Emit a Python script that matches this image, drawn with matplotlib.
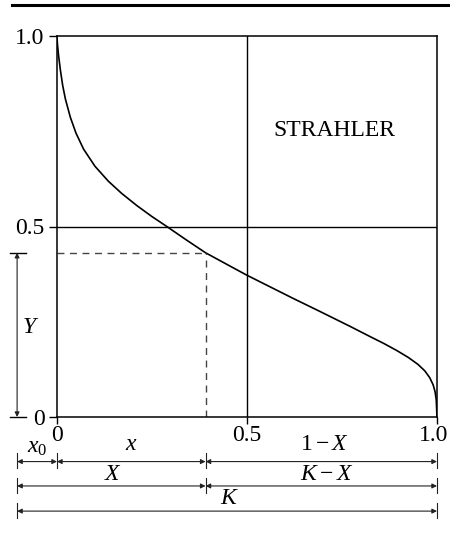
import matplotlib
matplotlib.use('Agg')
import matplotlib.pyplot as plt
import matplotlib.transforms as mtransforms
from matplotlib.lines import Line2D

plt.rcParams['font.family'] = 'Liberation Serif'
plt.rcParams['mathtext.fontset'] = 'custom'
plt.rcParams['mathtext.rm'] = 'Liberation Serif'
plt.rcParams['mathtext.it'] = 'Liberation Serif:italic'

# hypsometric curve: relative area (x) vs relative height (y)
rel_area = [0, 0.001, 0.004, 0.009, 0.015, 0.022, 0.035, 0.05, 0.07, 0.1,
            0.135, 0.17, 0.21, 0.25, 0.289, 0.34, 0.391, 0.45, 0.5, 0.56,
            0.62, 0.692, 0.771, 0.824, 0.86, 0.895, 0.925, 0.95, 0.968, 0.981,
            0.99, 0.995, 0.998, 1.0]
rel_height = [1.0, 0.98, 0.95, 0.91, 0.87, 0.835, 0.787, 0.745, 0.703, 0.658,
              0.619, 0.587, 0.555, 0.526, 0.5, 0.465, 0.431, 0.399, 0.372, 0.342,
              0.312, 0.277, 0.238, 0.211, 0.193, 0.174, 0.156, 0.138, 0.121, 0.103,
              0.084, 0.066, 0.045, 0.0]

X_pt = 0.391   # chosen point on the curve
Y_pt = 0.431
x_left = -0.105  # start of the x0 offset
tick_vals = [0, 0.5, 1.0]
tick_text = ['0', '0.5', '1.0']

fig = plt.figure(figsize=(4.5, 5.33), dpi=100)
ax = fig.add_axes([57/450, 116/533, 380/450, 381/533])
ax.set_xlim(0, 1)
ax.set_ylim(0, 1)

ax.plot(rel_area, rel_height, color='k', lw=1.2, solid_joinstyle='round')
ax.axvline(0.5, color='k', lw=1.0)
ax.axhline(0.5, color='k', lw=1.0)

# dashed guides to the chosen point
ax.plot([0, X_pt], [Y_pt, Y_pt], color='#444444', lw=1.0, ls=(0, (5, 4)))
ax.plot([X_pt, X_pt], [0, Y_pt], color='#444444', lw=1.0, ls=(0, (5, 4)))

ax.text(0.729, 0.753, 'STRAHLER', fontsize=17, ha='center', va='center')

for s in ax.spines.values():
    s.set_linewidth(1.1)
ax.set_xticks(tick_vals)
ax.set_xticklabels(tick_text)
ax.set_yticks(tick_vals)
ax.set_yticklabels(tick_text)
ax.tick_params(axis='y', direction='out', length=6, width=1, pad=3, labelsize=17)
ax.tick_params(axis='x', direction='out', length=5, width=1, pad=1, labelsize=17)
# nudge the last x label so it stays on the page
last = ax.get_xticklabels()[-1]
last.set_transform(last.get_transform() +
                   mtransforms.ScaledTranslation(-3/100, 0, fig.dpi_scale_trans))

# Y dimension on the left
arrow_kw = dict(arrowstyle='<|-|>', mutation_scale=7, lw=0.8, color='#222222',
                shrinkA=0, shrinkB=0)
ax.annotate('', xy=(x_left, Y_pt), xytext=(x_left, 0), arrowprops=arrow_kw,
            annotation_clip=False)
for yy in [0, Y_pt]:
    ax.plot([-0.124, -0.082], [yy, yy], color='k', lw=1.0, clip_on=False)
ax.text(-0.074, 0.234, 'Y', style='italic', fontsize=17, ha='center', va='center')

# horizontal dimension rows under the axis
def dim(x1, x2, y):
    ax.annotate('', xy=(x2, y), xytext=(x1, y), arrowprops=arrow_kw,
                annotation_clip=False)

def bar(x, y0, y1):
    ax.plot([x, x], [y0, y1], color='#222222', lw=0.8, clip_on=False)

row1, row2, row3 = -0.117, -0.181, -0.247
dim(x_left, 0, row1)
dim(0, X_pt, row1)
dim(X_pt, 1.0, row1)
dim(x_left, X_pt, row2)
dim(X_pt, 1.0, row2)
dim(x_left, 1.0, row3)

for xx in [x_left, 0, X_pt, 1.0]:
    bar(xx, row1 - 0.018, row1 + 0.022)
for xx in [x_left, X_pt, 1.0]:
    bar(xx, row2 - 0.018, row2 + 0.022)
for xx in [x_left, 1.0]:
    bar(xx, row3 - 0.018, row3 + 0.022)

ax.text(-0.053, -0.079, r'$x_0$', fontsize=17, ha='center', va='center')
ax.text(0.195, -0.073, r'$x$', fontsize=17, ha='center', va='center')
ax.text(0.705, -0.073, r'$1-X$', fontsize=17, ha='center', va='center')
ax.text(0.147, -0.152, r'$X$', fontsize=17, ha='center', va='center')
ax.text(0.711, -0.152, r'$K-X$', fontsize=17, ha='center', va='center')
ax.text(0.453, -0.215, r'$K$', fontsize=17, ha='center', va='center')

# rule across the top of the page
fig.add_artist(Line2D([12/450, 1.0], [1 - 5/533, 1 - 5/533], color='k', lw=2.2))

fig.savefig('out.png', dpi=100)
